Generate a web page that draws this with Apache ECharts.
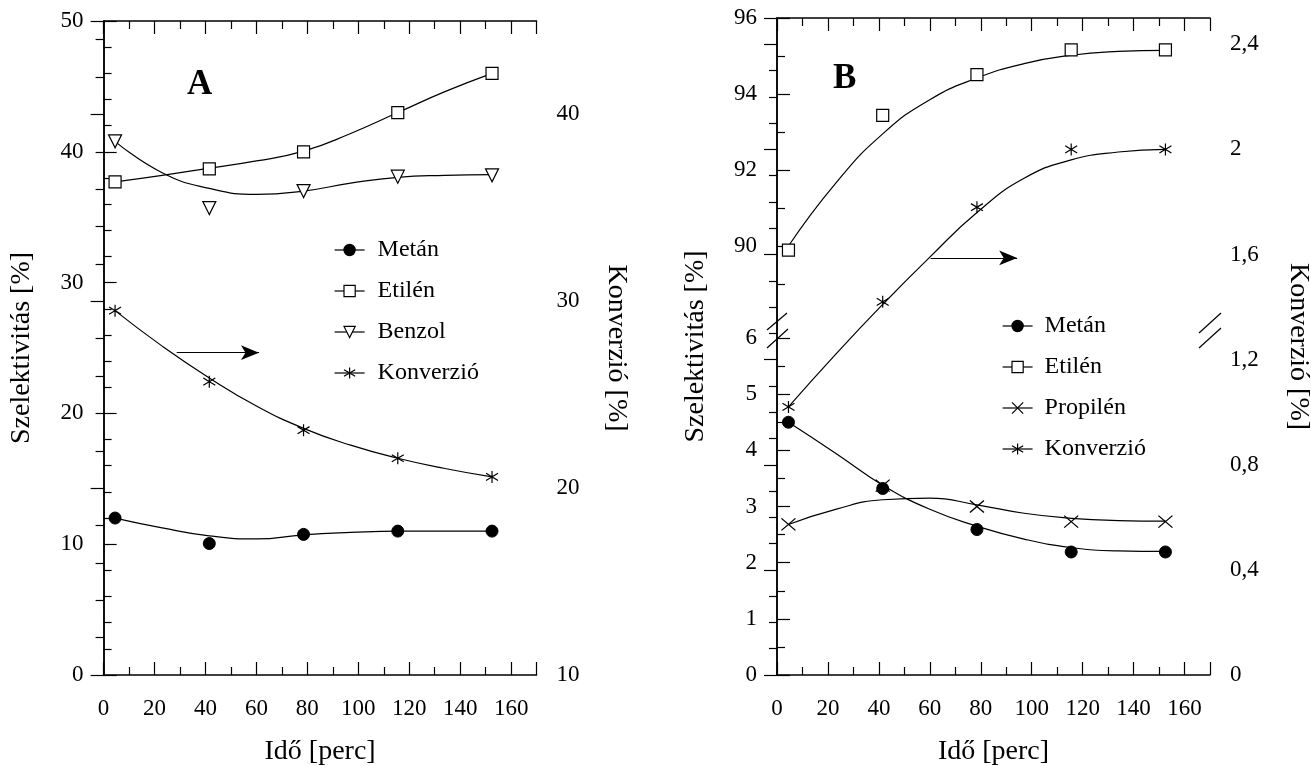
<!DOCTYPE html>
<html>
<head>
<meta charset="utf-8">
<script src="https://cdn.jsdelivr.net/npm/echarts@6.0.0/dist/echarts.min.js"></script>
<style>
  html, body { margin: 0; padding: 0; background: #fff; }
  #main { width: 1311px; height: 767px; }
</style>
</head>
<body>
<div id="main"></div>
<script>
// mérési idők [perc]
var ido = [4.5, 41.5, 78.5, 115.5, 152.5];
// az illesztett görbék leolvasási helyei
var idoGorbe = [4.5, 23, 41.5, 60, 78.5, 97, 115.5, 134, 152.5];

// A panel - mért pontok
var metanA = [12.0, 10.05, 10.75, 11.0, 11.0];
var etilenA = [37.7, 38.7, 40.0, 43.0, 46.0];
var benzolA = [40.8, 35.7, 37.0, 38.1, 38.2];
var konverzioA = [29.5, 25.7, 23.1, 21.6, 20.6];
// A panel - illesztett görbék
var metanAGorbe = [12.0, 11.25, 10.64, 10.4, 10.72, 10.9, 11.0, 11.0, 11.0];
var etilenAGorbe = [37.7, 38.2, 38.75, 39.3, 40.05, 41.4, 43.0, 44.6, 46.0];
var benzolAGorbe = [40.8, 38.4, 37.2, 36.75, 37.0, 37.6, 38.05, 38.2, 38.25];
var konverzioAGorbe = [29.5, 27.6, 25.9, 24.4, 23.2, 22.3, 21.6, 21.05, 20.6];

// B panel - mért pontok
var metanB = [4.5, 3.32, 2.59, 2.19, 2.19];
var etilenB = [89.89, 93.44, 94.51, 95.16, 95.16];
var propilenB = [2.68, 3.37, 3.0, 2.73, 2.73];
var konverzioB = [1.02, 1.42, 1.78, 2.0, 2.0];
// B panel - illesztett görbék
var metanBGorbe = [4.5, 3.95, 3.38, 2.95, 2.65, 2.42, 2.27, 2.21, 2.2];
var etilenBGorbe = [90.0, 91.65, 92.95, 93.85, 94.42, 94.8, 95.02, 95.12, 95.15];
var propilenBGorbe = [2.68, 2.95, 3.12, 3.15, 3.03, 2.88, 2.79, 2.75, 2.74];
var konverzioBGorbe = [1.02, 1.22, 1.41, 1.59, 1.76, 1.89, 1.96, 1.99, 2.0];

// tengelyek
var xTengely = [0, 170, 20];          // min, max, lépés
var szelA = [0, 50, 10];
var konvA = [10, 45, 10];
var szelBAlso = [0, 6, 1];
var szelBFelso = [89, 96];
var szelBFelsoCimkek = [90, 92, 94, 96];
var szelBFelsoKisJelek = [89, 91, 93, 95];
var konvB = [0, 2.5, 0.4];

// nyilak: [x kezdet, x vég, y]
var nyilA = [28.7, 61, 27.25];
var nyilB = [60.3, 94.3, 1.587];

var FONT = "'Liberation Serif', 'DejaVu Serif', serif";
var FEKETE = '#000';

var myChart = echarts.init(document.getElementById('main'));

function pontok(xs, ys) {
    return xs.map(function (x, i) { return [x, ys[i]]; });
}
function vesszo(v) {
    return String(v).replace('.', ',');
}

var vonal = { color: FEKETE, width: 1.5 };
var jel = { show: true, inside: true, length: 13, lineStyle: { color: FEKETE, width: 1.2 } };
var kisJel = { show: true, splitNumber: 2, length: 8, lineStyle: { color: FEKETE, width: 1.2 } };
var cimke = { color: FEKETE, fontFamily: FONT, fontSize: 23, margin: 20 };
var nevStilus = { color: FEKETE, fontFamily: FONT, fontSize: 28 };

function xTeng(grid, pos, labels) {
    return {
        type: 'value', gridIndex: grid, position: pos,
        min: xTengely[0], max: xTengely[1], interval: xTengely[2],
        axisLine: { show: true, onZero: false, lineStyle: vonal },
        axisTick: jel,
        minorTick: kisJel,
        splitLine: { show: false },
        axisLabel: labels ? Object.assign({}, cimke, { margin: 22, showMaxLabel: false }) : { show: false },
        name: labels ? 'Idő [perc]' : '',
        nameLocation: 'middle', nameGap: 63, nameTextStyle: nevStilus
    };
}

// pontsorozat (vonal nélkül, csak jelölők)
function pontSor(nev, adat, xi, yi, szimb) {
    return Object.assign({
        name: nev, type: 'line', xAxisIndex: xi, yAxisIndex: yi,
        data: adat, symbolSize: 12, z: 5,
        lineStyle: { opacity: 0 },
        itemStyle: { color: FEKETE, borderColor: FEKETE, borderWidth: 1.2 },
        silent: true, animation: false
    }, szimb);
}
function gorbe(nev, adat, xi, yi, extra) {
    return Object.assign({
        name: nev, type: 'line', xAxisIndex: xi, yAxisIndex: yi,
        data: adat, smooth: 0.5, showSymbol: false, symbol: 'none', z: 3,
        lineStyle: { color: FEKETE, width: 1.2 },
        silent: true, animation: false
    }, extra || {});
}
function nyil(ny) {
    return {
        silent: true, animation: false,
        symbol: ['none', 'arrow'], symbolSize: [11, 18],
        label: { show: false },
        lineStyle: { color: FEKETE, width: 1.2, type: 'solid' },
        itemStyle: { color: FEKETE },
        emphasis: { disabled: true },
        data: [[{ coord: [ny[0], ny[2]] }, { coord: [ny[1], ny[2]] }]]
    };
}

var kor = { symbol: 'circle', itemStyle: { color: FEKETE, borderColor: FEKETE, borderWidth: 1 } };
var negyzet = { symbol: 'rect', itemStyle: { color: '#fff', borderColor: FEKETE, borderWidth: 1.2 } };
var haromszog = { symbol: 'triangle', symbolRotate: 180, symbolSize: 13, itemStyle: { color: '#fff', borderColor: FEKETE, borderWidth: 1.2 } };
var kereszt = { symbol: 'path://M0,1L10,9M0,9L10,1', symbolSize: [14, 12], itemStyle: { color: 'none', borderColor: FEKETE, borderWidth: 1.2 } };
var csillag = { symbol: 'path://M0,2L10,8M0,8L10,2M5,0L5,10', itemStyle: { color: 'none', borderColor: FEKETE, borderWidth: 1.2 } };

function jelmagyarazat(left, top, nevek, res) {
    return {
        orient: 'vertical', left: left, top: top,
        itemWidth: 30, itemHeight: 14, itemGap: 17,
        selectedMode: false,
        data: nevek,
        textStyle: { color: FEKETE, fontFamily: FONT, fontSize: 24, padding: [0, 0, 0, res] },
        lineStyle: { color: FEKETE, width: 1.2, opacity: 1, type: 'solid' },
        itemStyle: { borderColor: FEKETE, borderWidth: 1.2 }
    };
}

option = {
    backgroundColor: '#fff',
    textStyle: { fontFamily: FONT, color: FEKETE },
    title: [
        { text: 'A', left: 182, top: 62, textStyle: { fontFamily: FONT, fontSize: 35, fontWeight: 'bold', color: FEKETE } },
        { text: 'B', left: 828, top: 56, textStyle: { fontFamily: FONT, fontSize: 35, fontWeight: 'bold', color: FEKETE } }
    ],
    legend: [
        jelmagyarazat(329, 233, ['Metán', 'Etilén', 'Benzol', 'Konverzió'], 8),
        jelmagyarazat(997, 309, ['Metán', 'Etilén', 'Propilén', 'Konverzió'], 7)
    ],
    grid: [
        { left: 103.6, top: 21, width: 433, height: 654, outerBoundsMode: 'none' },
        { left: 777, top: 18, width: 433, height: 657, outerBoundsMode: 'none' },
        { left: 777, top: 18, width: 433, height: 266, outerBoundsMode: 'none' },
        { left: 777, top: 338, width: 433, height: 337, outerBoundsMode: 'none' }
    ],
    xAxis: [
        xTeng(0, 'bottom', true),
        xTeng(0, 'top', false),
        xTeng(1, 'bottom', true),
        xTeng(1, 'top', false),
        { type: 'value', gridIndex: 2, min: xTengely[0], max: xTengely[1], show: false },
        { type: 'value', gridIndex: 3, min: xTengely[0], max: xTengely[1], show: false }
    ],
    yAxis: [
        // A bal: szelektivitás
        {
            type: 'value', gridIndex: 0, position: 'left',
            min: szelA[0], max: szelA[1], interval: szelA[2],
            axisLine: { show: true, lineStyle: vonal },
            axisTick: jel, minorTick: Object.assign({}, kisJel, { splitNumber: 5 }),
            splitLine: { show: false }, axisLabel: cimke,
            name: 'Szelektivitás [%]', nameLocation: 'middle', nameRotate: 90, nameGap: 68,
            nameTextStyle: nevStilus
        },
        // A jobb: konverzió
        {
            type: 'value', gridIndex: 0, position: 'right',
            min: konvA[0], max: konvA[1], interval: konvA[2],
            axisLine: { show: true, lineStyle: vonal },
            axisTick: jel, minorTick: Object.assign({}, kisJel, { splitNumber: 5 }),
            splitLine: { show: false }, axisLabel: Object.assign({}, cimke, { showMaxLabel: false }),
            name: 'Konverzió [%]', nameLocation: 'middle', nameRotate: -90, nameGap: 66,
            nameTextStyle: nevStilus
        },
        // B bal: csak a tengelyvonal
        {
            type: 'value', gridIndex: 1, position: 'left', min: 0, max: 1,
            axisLine: { show: true, lineStyle: vonal },
            axisTick: { show: false }, axisLabel: { show: false }, splitLine: { show: false },
            name: 'Szelektivitás [%]', nameLocation: 'middle', nameRotate: 90, nameGap: 67,
            nameTextStyle: nevStilus
        },
        // B jobb: konverzió
        {
            type: 'value', gridIndex: 1, position: 'right',
            min: konvB[0], max: konvB[1], interval: konvB[2],
            axisLine: { show: true, lineStyle: vonal },
            axisTick: jel, minorTick: Object.assign({}, kisJel, { splitNumber: 4 }),
            splitLine: { show: false },
            axisLabel: Object.assign({}, cimke, { showMaxLabel: false, formatter: vesszo }),
            name: 'Konverzió [%]', nameLocation: 'middle', nameRotate: -90, nameGap: 74,
            nameTextStyle: nevStilus
        },
        // B bal felső szakasz
        {
            type: 'value', gridIndex: 2, position: 'left',
            min: szelBFelso[0], max: szelBFelso[1],
            axisLine: { show: false },
            axisTick: Object.assign({}, jel, { customValues: szelBFelsoCimkek }),
            axisLabel: Object.assign({}, cimke, { customValues: szelBFelsoCimkek }),
            splitLine: { show: false }
        },
        {
            type: 'value', gridIndex: 2, position: 'left',
            min: szelBFelso[0], max: szelBFelso[1],
            axisLine: { show: false },
            axisTick: Object.assign({}, jel, { length: 8, customValues: szelBFelsoKisJelek }),
            axisLabel: { show: false },
            splitLine: { show: false }
        },
        // B bal alsó szakasz
        {
            type: 'value', gridIndex: 3, position: 'left',
            min: szelBAlso[0], max: szelBAlso[1], interval: szelBAlso[2],
            axisLine: { show: false },
            axisTick: jel, minorTick: Object.assign({}, kisJel, { splitNumber: 2 }),
            axisLabel: cimke, splitLine: { show: false }
        }
    ],
    graphic: [
        // tengelytörés jelek
        { type: 'line', shape: { x1: 767, y1: 330, x2: 787, y2: 313 }, style: { stroke: FEKETE, lineWidth: 1.2 }, silent: true },
        { type: 'line', shape: { x1: 767, y1: 348, x2: 788, y2: 329 }, style: { stroke: FEKETE, lineWidth: 1.2 }, silent: true },
        { type: 'line', shape: { x1: 1199, y1: 333, x2: 1221, y2: 313 }, style: { stroke: FEKETE, lineWidth: 1.2 }, silent: true },
        { type: 'line', shape: { x1: 1199, y1: 348, x2: 1221, y2: 328 }, style: { stroke: FEKETE, lineWidth: 1.2 }, silent: true }
    ],
    series: [
        // A panel
        gorbe('Metán görbe A', pontok(idoGorbe, metanAGorbe), 0, 0),
        gorbe('Etilén görbe A', pontok(idoGorbe, etilenAGorbe), 0, 0),
        gorbe('Benzol görbe A', pontok(idoGorbe, benzolAGorbe), 0, 0),
        gorbe('Konverzió görbe A', pontok(idoGorbe, konverzioAGorbe), 0, 1, { markLine: nyil(nyilA) }),
        pontSor('Metán', pontok(ido, metanA), 0, 0, kor),
        pontSor('Etilén', pontok(ido, etilenA), 0, 0, negyzet),
        pontSor('Benzol', pontok(ido, benzolA), 0, 0, haromszog),
        pontSor('Konverzió', pontok(ido, konverzioA), 0, 1, csillag),
        // B panel
        gorbe('Metán görbe B', pontok(idoGorbe, metanBGorbe), 5, 6),
        gorbe('Propilén görbe B', pontok(idoGorbe, propilenBGorbe), 5, 6),
        gorbe('Etilén görbe B', pontok(idoGorbe, etilenBGorbe), 4, 4),
        gorbe('Konverzió görbe B', pontok(idoGorbe, konverzioBGorbe), 2, 3, { markLine: nyil(nyilB) }),
        pontSor('Metán', pontok(ido, metanB), 5, 6, kor),
        pontSor('Etilén', pontok(ido, etilenB), 4, 4, negyzet),
        pontSor('Propilén', pontok(ido, propilenB), 5, 6, kereszt),
        pontSor('Konverzió', pontok(ido, konverzioB), 2, 3, csillag)
    ]
};

myChart.setOption(option);
</script>
</body>
</html>
